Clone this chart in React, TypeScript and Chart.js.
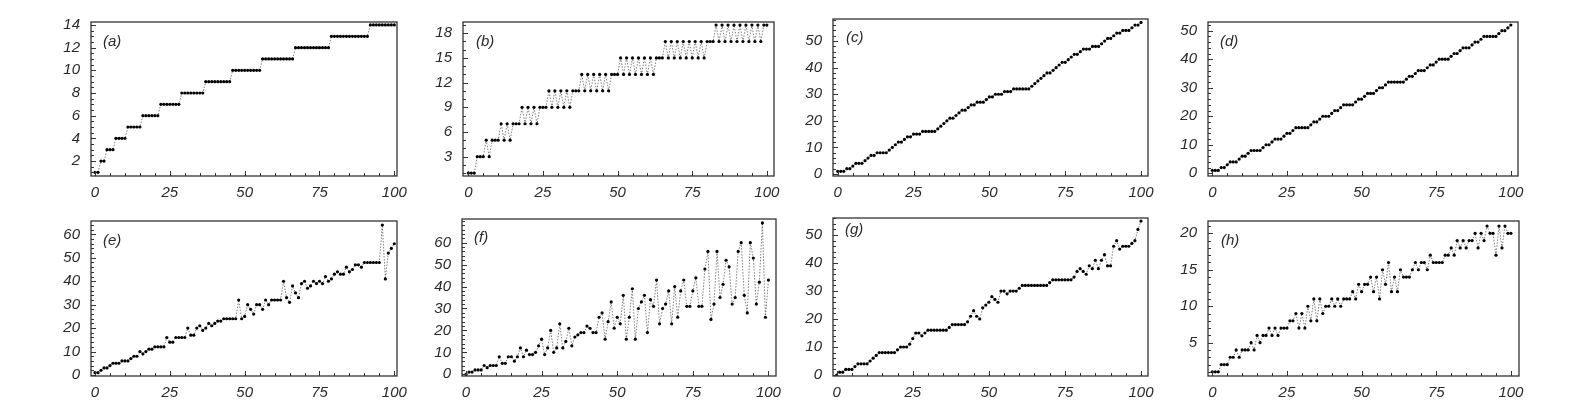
import React, { useEffect, useRef } from "react";
import { Chart, registerables } from "chart.js";

Chart.register(...registerables);

// ---------- data ----------
const X_TICKS = [0, 25, 50, 75, 100];

const SERIES_A = [
  1, 1, 2, 2, 3, 3, 3, 4, 4, 4, 4, 5, 5, 5, 5, 5, 6, 6, 6, 6, 6, 6,
  7, 7, 7, 7, 7, 7, 7, 8, 8, 8, 8, 8, 8, 8, 8, 9, 9, 9, 9, 9, 9, 9, 9, 9,
  10, 10, 10, 10, 10, 10, 10, 10, 10, 10, 11, 11, 11, 11, 11, 11, 11, 11, 11, 11, 11,
  12, 12, 12, 12, 12, 12, 12, 12, 12, 12, 12, 12,
  13, 13, 13, 13, 13, 13, 13, 13, 13, 13, 13, 13, 13,
  14, 14, 14, 14, 14, 14, 14, 14, 14,
];

const SERIES_B = [
  1, 1, 1, 3, 3, 3, 5, 3, 5, 5, 5, 7, 5, 7, 5, 7, 7, 7,
  9, 7, 9, 7, 9, 7, 9, 9, 9,
  11, 9, 11, 9, 11, 9, 11, 9, 11, 11, 11,
  13, 11, 13, 11, 13, 11, 13, 11, 13, 11, 13, 13, 13,
  15, 13, 15, 13, 15, 13, 15, 13, 15, 13, 15, 13, 15, 15, 15,
  17, 15, 17, 15, 17, 15, 17, 15, 17, 15, 17, 15, 17, 15, 17, 17, 17,
  19, 17, 19, 17, 19, 17, 19, 17, 19, 17, 19, 17, 19, 17, 19, 17, 19, 19,
];

const SERIES_C = [
  1, 1, 1, 2, 2, 3, 4, 4, 4, 5, 6, 7, 7, 8, 8, 8, 8, 9, 10, 11,
  12, 12, 13, 14, 14, 15, 15, 15, 16, 16, 16, 16, 16, 17, 18, 19, 20, 21, 21, 22,
  23, 24, 24, 25, 26, 26, 27, 27, 27, 28, 29, 29, 30, 30, 30, 31, 31, 31, 32, 32,
  32, 32, 32, 32, 33, 34, 35, 36, 37, 38, 38, 39, 40, 41, 42, 42, 43, 44, 45, 45,
  46, 47, 47, 47, 48, 48, 48, 49, 50, 51, 51, 52, 53, 53, 54, 54, 54, 55, 56, 56,
  57,
];

const SERIES_D = [
  1, 1, 1, 2, 2, 3, 4, 4, 4, 5, 6, 6, 7, 8, 8, 8, 8, 9, 10, 10,
  11, 12, 12, 12, 13, 14, 14, 15, 16, 16, 16, 16, 16, 17, 18, 18, 19, 20, 20, 20,
  21, 22, 22, 23, 24, 24, 24, 24, 25, 26, 26, 27, 28, 28, 28, 29, 30, 30, 31, 32,
  32, 32, 32, 32, 32, 33, 34, 34, 35, 36, 36, 36, 37, 38, 38, 39, 40, 40, 40, 40,
  41, 42, 42, 43, 44, 44, 44, 45, 46, 46, 47, 48, 48, 48, 48, 48, 49, 50, 50, 51,
  52,
];

const SERIES_E = [
  1, 1, 2, 3, 3, 4, 5, 5, 5, 6, 6, 6, 7, 8, 8, 10, 9, 10, 11, 11,
  12, 12, 12, 12, 16, 14, 14, 16, 16, 16, 16, 20, 17, 17, 20, 21, 19, 20, 22, 21,
  22, 23, 23, 24, 24, 24, 24, 24, 32, 24, 25, 30, 28, 26, 30, 30, 28, 32, 30, 32,
  32, 32, 32, 40, 33, 31, 38, 35, 33, 39, 40, 37, 38, 40, 39, 40, 39, 42, 40, 41,
  43, 44, 43, 43, 46, 44, 45, 47, 47, 46, 48, 48, 48, 48, 48, 48, 64, 41, 52, 54,
  56,
];

const SERIES_F = [
  0, 1, 1, 2, 2, 2, 4, 3, 4, 4, 4, 8, 5, 5, 8, 8, 6, 8, 12, 8,
  11, 9, 9, 10, 13, 16, 9, 12, 20, 10, 12, 23, 12, 15, 21, 13, 17, 18, 19, 19,
  22, 21, 19, 19, 26, 28, 16, 24, 33, 21, 26, 23, 36, 16, 26, 39, 16, 30, 33, 36,
  19, 34, 31, 43, 23, 30, 32, 38, 23, 40, 26, 38, 43, 31, 31, 38, 44, 31, 31, 48,
  56, 25, 32, 56, 35, 41, 52, 49, 32, 35, 56, 60, 36, 28, 60, 53, 32, 42, 69, 26,
  43,
];

const SERIES_G = [
  0, 1, 1, 2, 2, 2, 3, 4, 4, 4, 4, 5, 6, 7, 8, 8, 8, 8, 8, 8,
  9, 10, 10, 10, 11, 13, 15, 15, 14, 15, 16, 16, 16, 16, 16, 16, 16, 17, 18, 18,
  18, 18, 18, 19, 21, 23, 21, 20, 24, 25, 26, 28, 27, 26, 30, 30, 29, 30, 30, 30,
  31, 32, 32, 32, 32, 32, 32, 32, 32, 32, 33, 34, 34, 34, 34, 34, 34, 34, 35, 37,
  38, 37, 36, 39, 38, 41, 38, 41, 43, 39, 39, 46, 48, 45, 46, 46, 46, 47, 48, 52,
  55,
];

const SERIES_H = [
  1, 1, 1, 2, 2, 2, 3, 3, 4, 3, 4, 4, 4, 5, 4, 6, 5, 6, 6, 7,
  6, 7, 6, 7, 7, 7, 8, 8, 9, 7, 9, 7, 10, 8, 11, 8, 11, 9, 10, 10,
  11, 10, 11, 10, 11, 11, 11, 12, 11, 13, 12, 13, 13, 14, 12, 14, 11, 15, 13, 16,
  12, 14, 12, 15, 14, 14, 14, 15, 16, 15, 16, 16, 15, 17, 16, 16, 16, 16, 17, 17,
  18, 17, 19, 18, 19, 18, 19, 19, 20, 18, 20, 19, 21, 20, 20, 17, 21, 18, 21, 20,
  20,
];

const Y_TICKS_A = [2, 4, 6, 8, 10, 12, 14];
const Y_TICKS_B = [3, 6, 9, 12, 15, 18];
const Y_TICKS_C = [0, 10, 20, 30, 40, 50];
const Y_TICKS_D = [0, 10, 20, 30, 40, 50];
const Y_TICKS_E = [0, 10, 20, 30, 40, 50, 60];
const Y_TICKS_F = [0, 10, 20, 30, 40, 50, 60];
const Y_TICKS_G = [0, 10, 20, 30, 40, 50];
const Y_TICKS_H = [5, 10, 15, 20];

const PANEL_LABELS = ["(a)", "(b)", "(c)", "(d)", "(e)", "(f)", "(g)", "(h)"];

// ---------- layout / style ----------
type Panel = {
  label: string;
  data: number[];
  yTicks: number[];
  yMin: number;
  yMax: number;
  xMin: number;
  xMax: number;
  minor: number;
  box: [number, number, number, number]; // left, top, right, bottom (page px)
  lab: [number, number];
};

const PANELS: Panel[] = [
  { label: PANEL_LABELS[0], data: SERIES_A, yTicks: Y_TICKS_A, yMin: 0.68, yMax: 14.26, xMin: -1.34, xMax: 100.9, minor: 0.5, box: [91, 22, 397, 176], lab: [12, 20] },
  { label: PANEL_LABELS[1], data: SERIES_B, yTicks: Y_TICKS_B, yMin: 0.65, yMax: 19.37, xMin: -1.78, xMax: 102.4, minor: 1, box: [463, 22, 774, 176], lab: [13, 20] },
  { label: PANEL_LABELS[2], data: SERIES_C, yTicks: Y_TICKS_C, yMin: -0.75, yMax: 58.3, xMin: -1.55, xMax: 102.3, minor: 2, box: [833, 19, 1148, 176], lab: [13, 19] },
  { label: PANEL_LABELS[3], data: SERIES_D, yTicks: Y_TICKS_D, yMin: -0.95, yMax: 53.05, xMin: -1.44, xMax: 102.4, minor: 2, box: [1208, 22, 1518, 176], lab: [12, 20] },
  { label: PANEL_LABELS[4], data: SERIES_E, yTicks: Y_TICKS_E, yMin: -0.43, yMax: 65.7, xMin: -1.34, xMax: 100.9, minor: 2, box: [91, 221, 397, 376], lab: [12, 20] },
  { label: PANEL_LABELS[5], data: SERIES_F, yTicks: Y_TICKS_F, yMin: -0.78, yMax: 70.8, xMin: -1.32, xMax: 102.5, minor: 2, box: [462, 219, 776, 376], lab: [12, 19] },
  { label: PANEL_LABELS[6], data: SERIES_G, yTicks: Y_TICKS_G, yMin: -0.36, yMax: 56.1, xMin: -1.2, xMax: 102.3, minor: 2, box: [833, 218, 1148, 376], lab: [12, 12] },
  { label: PANEL_LABELS[7], data: SERIES_H, yTicks: Y_TICKS_H, yMin: 0.43, yMax: 21.69, xMin: -1.44, xMax: 102.7, minor: 1, box: [1208, 221, 1519, 376], lab: [13, 20] },
];

const Y_AXIS_W = 60;
const X_AXIS_H = 34;
const PAD_T = 24;
const PAD_R = 30;
const FONT_FAMILY = '"Liberation Sans", Arial, sans-serif';
const TEXT_COLOR = "#2a2a2a";
const FRAME_COLOR = "#333";

const framePlugin = {
  id: "frameTicks",
  afterDraw(chart: any, _args: any, opts: any) {
    const { ctx, chartArea } = chart;
    const xs = chart.scales.x;
    const ys = chart.scales.y;
    const p: Panel = opts.panel;
    ctx.save();
    ctx.strokeStyle = FRAME_COLOR;
    ctx.lineWidth = 1;
    // inward x ticks (every 5, long at 25)
    ctx.beginPath();
    for (let k = Math.ceil(p.xMin / 5); k * 5 <= p.xMax; k++) {
      const v = k * 5;
      const px = Math.round(xs.getPixelForValue(v)) + 0.5;
      const len = v % 25 === 0 ? 5 : 3;
      ctx.moveTo(px, chartArea.bottom);
      ctx.lineTo(px, chartArea.bottom - len);
    }
    // inward y ticks
    for (let k = Math.ceil(p.yMin / p.minor - 1e-9); k * p.minor <= p.yMax + 1e-9; k++) {
      const v = k * p.minor;
      const py = Math.round(ys.getPixelForValue(v)) + 0.5;
      const major = p.yTicks.some((t) => Math.abs(t - v) < 1e-6);
      const len = major ? 5 : 3;
      ctx.moveTo(chartArea.left, py);
      ctx.lineTo(chartArea.left + len, py);
    }
    ctx.stroke();
    // frame
    ctx.lineWidth = 1.3;
    ctx.strokeRect(chartArea.left, chartArea.top, chartArea.right - chartArea.left, chartArea.bottom - chartArea.top);
    // panel label
    ctx.fillStyle = TEXT_COLOR;
    ctx.font = `italic 15px ${FONT_FAMILY}`;
    ctx.textBaseline = "middle";
    ctx.textAlign = "left";
    ctx.fillText(p.label, chartArea.left + p.lab[0], chartArea.top + p.lab[1]);
    ctx.restore();
  },
};

function PanelChart({ p }: { p: Panel }) {
  const ref = useRef<HTMLCanvasElement>(null);
  const [L, T, R, B] = p.box;
  const w = Y_AXIS_W + (R - L) + PAD_R;
  const h = PAD_T + (B - T) + X_AXIS_H;

  useEffect(() => {
    if (!ref.current) return;
    const tickFont = { family: FONT_FAMILY, size: 15, style: "italic" as const };
    const chart = new Chart(ref.current, {
      type: "line",
      data: {
        datasets: [
          {
            data: p.data.map((y, i) => ({ x: i, y })),
            borderColor: "rgba(0,0,0,0.5)",
            borderWidth: 1,
            borderDash: [1.5, 1.5],
            tension: 0,
            pointRadius: 1.6,
            pointBackgroundColor: "#000",
            pointBorderWidth: 0,
            fill: false,
          },
        ],
      },
      options: {
        animation: false,
        responsive: false,
        maintainAspectRatio: false,
        events: [],
        layout: { padding: { top: PAD_T, right: PAD_R, left: 0, bottom: 0 } },
        plugins: {
          legend: { display: false },
          tooltip: { enabled: false },
          frameTicks: { panel: p },
        } as any,
        scales: {
          x: {
            type: "linear",
            min: p.xMin,
            max: p.xMax,
            afterBuildTicks: (s: any) => {
              s.ticks = X_TICKS.map((v) => ({ value: v }));
            },
            afterFit: (s: any) => {
              s.height = X_AXIS_H;
            },
            grid: { display: false, drawTicks: false },
            border: { display: false },
            ticks: {
              font: tickFont,
              color: TEXT_COLOR,
              padding: 8,
              autoSkip: false,
              maxRotation: 0,
              minRotation: 0,
            },
          },
          y: {
            type: "linear",
            min: p.yMin,
            max: p.yMax,
            afterBuildTicks: (s: any) => {
              s.ticks = p.yTicks.map((v) => ({ value: v }));
            },
            afterFit: (s: any) => {
              s.width = Y_AXIS_W;
            },
            grid: { display: false, drawTicks: false },
            border: { display: false },
            ticks: {
              font: tickFont,
              color: TEXT_COLOR,
              padding: 11,
              autoSkip: false,
            },
          },
        },
      },
      plugins: [framePlugin],
    } as any);
    return () => chart.destroy();
  }, [p]);

  return (
    <canvas
      ref={ref}
      width={w}
      height={h}
      style={{ position: "absolute", left: L - Y_AXIS_W, top: T - PAD_T, width: w, height: h }}
    />
  );
}

export default function App() {
  return (
    <div style={{ position: "absolute", left: 0, top: 0, width: 1588, height: 420, background: "#fff" }}>
      {PANELS.map((p) => (
        <PanelChart key={p.label} p={p} />
      ))}
    </div>
  );
}
